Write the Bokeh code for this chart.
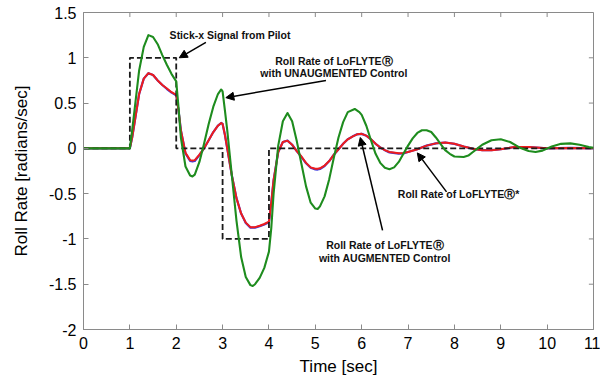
from bokeh.plotting import figure
from bokeh.models import Arrow, NormalHead, FixedTicker, ColumnDataSource, Range1d
from bokeh.core.properties import value
from bokeh.embed import file_html
from bokeh.resources import INLINE

# ---- data ----
stick_t = [0, 1, 1, 2, 2, 3, 3, 4, 4, 11]
stick_v = [0, 0, 1, 1, 0, 0, -1, -1, 0, 0]

green_t = [0, 1.0, 1.05, 1.1, 1.2, 1.3, 1.4, 1.5, 1.6, 1.7, 1.8, 1.9, 2.0, 2.05, 2.1, 2.2, 2.3, 2.35, 2.4, 2.5,
           2.6, 2.7, 2.8, 2.9, 2.97, 3.0, 3.05, 3.1, 3.2, 3.3, 3.4, 3.5, 3.6, 3.65, 3.7, 3.8, 3.9, 4.0, 4.05,
           4.1, 4.2, 4.3, 4.4, 4.5, 4.6, 4.7, 4.8, 4.9, 5.0, 5.05, 5.1, 5.2, 5.3, 5.4, 5.5, 5.6, 5.7, 5.85,
           5.95, 6.0, 6.1, 6.2, 6.3, 6.4, 6.5, 6.6, 6.7, 6.8, 6.9, 7.0, 7.1, 7.2, 7.3, 7.4, 7.5, 7.6, 7.7,
           7.8, 7.9, 8.0, 8.2, 8.3, 8.4, 8.5, 8.6, 8.8, 9.0, 9.2, 9.4, 9.6, 9.75, 9.9, 10.1, 10.3, 10.5,
           10.7, 10.9, 11.0]
green_v = [0, 0, 0.2, 0.42, 0.86, 1.12, 1.25, 1.23, 1.15, 1.03, 0.92, 0.82, 0.74, 0.45, 0.12, -0.2, -0.3,
           -0.31, -0.29, -0.15, 0.05, 0.27, 0.46, 0.6, 0.65, 0.63, 0.42, 0.2, -0.3, -0.8, -1.2, -1.42,
           -1.51, -1.52, -1.5, -1.43, -1.32, -1.14, -0.88, -0.5, 0.03, 0.3, 0.39, 0.3, 0.08, -0.17, -0.42,
           -0.6, -0.665, -0.67, -0.64, -0.53, -0.34, -0.1, 0.12, 0.29, 0.4, 0.435, 0.40, 0.37, 0.25, 0.09,
           -0.06, -0.16, -0.215, -0.23, -0.21, -0.15, -0.06, 0.03, 0.11, 0.17, 0.2, 0.2, 0.18, 0.12, 0.05,
           -0.02, -0.06, -0.09, -0.095, -0.08, -0.04, 0.0, 0.04, 0.09, 0.1, 0.07, 0.01, -0.03, -0.04,
           -0.025, 0.02, 0.05, 0.055, 0.04, 0.015, 0.005]

red_t = [0, 1.0, 1.05, 1.1, 1.2, 1.3, 1.4, 1.5, 1.6, 1.7, 1.8, 1.9, 2.0, 2.05, 2.1, 2.2, 2.3, 2.35, 2.4, 2.5,
         2.6, 2.7, 2.8, 2.9, 2.97, 3.0, 3.05, 3.1, 3.2, 3.3, 3.4, 3.5, 3.6, 3.7, 3.8, 3.9, 4.0, 4.05, 4.1,
         4.2, 4.3, 4.4, 4.5, 4.6, 4.7, 4.8, 4.9, 5.0, 5.05, 5.1, 5.2, 5.3, 5.4, 5.5, 5.6, 5.7, 5.8, 5.9,
         6.0, 6.1, 6.2, 6.3, 6.4, 6.5, 6.6, 6.8, 6.9, 7.0, 7.2, 7.4, 7.6, 7.8, 8.0, 8.2, 8.4, 8.6, 8.8,
         9.0, 9.3, 9.6, 10.0, 10.5, 11.0]
red_v = [0, 0, 0.12, 0.28, 0.6, 0.77, 0.83, 0.81, 0.75, 0.7, 0.66, 0.62, 0.59, 0.42, 0.2, -0.05, -0.13,
         -0.135, -0.13, -0.07, 0.0, 0.09, 0.18, 0.25, 0.28, 0.27, 0.15, 0.0, -0.3, -0.55, -0.72, -0.82, -0.87,
         -0.87, -0.855, -0.835, -0.81, -0.6, -0.35, -0.04, 0.07, 0.085, 0.04, -0.03, -0.09, -0.16, -0.21,
         -0.225, -0.226, -0.22, -0.19, -0.14, -0.07, -0.01, 0.05, 0.1, 0.13, 0.155, 0.16, 0.14, 0.1, 0.05,
         0.01, -0.02, -0.04, -0.053, -0.05, -0.04, -0.01, 0.03, 0.055, 0.065, 0.05, 0.02, -0.005, -0.02,
         -0.02, -0.01, 0.015, 0.015, 0.0, 0.005, 0.0]

blue_v = [0, 0, 0.12, 0.28, 0.6, 0.77, 0.83, 0.81, 0.75, 0.7, 0.655, 0.615, 0.585, 0.42, 0.2, -0.055, -0.14,
          -0.145, -0.14, -0.075, 0.0, 0.09, 0.18, 0.25, 0.28, 0.27, 0.15, 0.0, -0.3, -0.55, -0.72, -0.825,
          -0.875, -0.875, -0.86, -0.84, -0.815, -0.6, -0.35, -0.04, 0.07, 0.085, 0.04, -0.03, -0.095,
          -0.165, -0.215, -0.232, -0.234, -0.228, -0.195, -0.14, -0.07, -0.01, 0.05, 0.1, 0.13, 0.155, 0.16,
          0.14, 0.1, 0.05, 0.01, -0.02, -0.045, -0.058, -0.055, -0.04, -0.01, 0.03, 0.055, 0.065, 0.05,
          0.02, -0.005, -0.02, -0.02, -0.01, 0.015, 0.015, 0.0, 0.005, 0.0]

x_ticks = [0, 1, 2, 3, 4, 5, 6, 7, 8, 9, 10, 11]
y_ticks = [-2, -1.5, -1, -0.5, 0, 0.5, 1, 1.5]
y_tick_labels = {-2: "-2", -1.5: "-1.5", -1: "-1", -0.5: "-0.5", 0: "0", 0.5: "0.5", 1: "1", 1.5: "1.5"}

# annotation texts and anchor points (data units)
note_text = ["Stick-x Signal from Pilot",
             "Roll Rate of LoFLYTE\u24c7", "with UNAUGMENTED Control",
             "Roll Rate of LoFLYTE\u24c7*",
             "Roll Rate of LoFLYTE\u24c7", "with AUGMENTED Control"]
note_x = [3.16, 5.40, 5.40, 8.09, 6.50, 6.50]
note_y = [1.254, 0.965, 0.83, -0.50, -1.064, -1.21]

arrow_x0 = [2.64, 5.23, 7.83, 6.45]
arrow_y0 = [1.17, 0.75, -0.48, -0.905]
arrow_x1 = [2.065, 3.07, 7.20, 5.97]
arrow_y1 = [1.0, 0.56, -0.05, 0.12]

FONT = "Liberation Sans"
GRAY = "#8a8a8a"
X0, X1, Y0, Y1 = 0, 11, -2, 1.5
TICK_DX, TICK_DY = 0.1, 0.05   # mirrored inward tick length (~4.5 px)

p = figure(width=600, height=378, output_backend="svg", toolbar_location=None,
           x_range=Range1d(X0, X1), y_range=Range1d(Y0, Y1),
           min_border_left=83, min_border_right=7, min_border_top=12, min_border_bottom=49)
p.background_fill_color = "white"
p.border_fill_color = "white"
p.outline_line_color = GRAY
p.outline_line_width = 1
p.xgrid.visible = False
p.ygrid.visible = False

for ax in (p.xaxis[0], p.yaxis[0]):
    ax.axis_line_color = GRAY
    ax.major_tick_line_color = GRAY
    ax.major_tick_in = 5
    ax.major_tick_out = 0
    ax.minor_tick_line_color = None
    ax.major_label_text_font = FONT
    ax.major_label_text_font_size = "16px"
    ax.major_label_text_color = "black"
    ax.axis_label_text_font = FONT
    ax.axis_label_text_font_size = "17px"
    ax.axis_label_text_font_style = "normal"
    ax.axis_label_text_color = "black"

p.xaxis[0].ticker = FixedTicker(ticks=x_ticks)
p.yaxis[0].ticker = FixedTicker(ticks=y_ticks)
p.yaxis[0].major_label_overrides = y_tick_labels
p.xaxis[0].axis_label = "Time [sec]"
p.yaxis[0].axis_label = "Roll Rate [radians/sec]"
p.xaxis[0].major_label_standoff = 7
p.xaxis[0].axis_label_standoff = 5
p.yaxis[0].major_label_standoff = 7
p.yaxis[0].axis_label_standoff = 15

# mirrored tick marks on top and right edges
p.segment(x0=x_ticks, y0=[Y1] * len(x_ticks), x1=x_ticks, y1=[Y1 - TICK_DY] * len(x_ticks),
          line_color=GRAY, line_width=1)
p.segment(x0=[X1] * len(y_ticks), y0=y_ticks, x1=[X1 - TICK_DX] * len(y_ticks), y1=y_ticks,
          line_color=GRAY, line_width=1)

p.line(red_t, blue_v, line_color="#3a3adf", line_width=2.2, line_join="round")
p.line(red_t, red_v, line_color="#ee1c1c", line_width=2, line_join="round")
p.line(stick_t, stick_v, line_color="#1a1a1a", line_width=1.8, line_dash="6 3")
p.line(green_t, green_v, line_color="#1e8c1e", line_width=2.1, line_join="round")

src = ColumnDataSource(dict(x=note_x, y=note_y, t=note_text))
p.text(x="x", y="y", text="t", source=src, text_font=value(FONT), text_font_style="bold",
       text_font_size="10.5px", text_align="center", text_baseline="middle", text_color="#111111")

for x0, y0, x1, y1 in zip(arrow_x0, arrow_y0, arrow_x1, arrow_y1):
    p.add_layout(Arrow(x_start=x0, y_start=y0, x_end=x1, y_end=y1, line_width=1.5, line_color="black",
                       end=NormalHead(size=8, fill_color="black", line_color="black", line_width=1)))

open("out.html", "w").write(file_html(p, INLINE))
